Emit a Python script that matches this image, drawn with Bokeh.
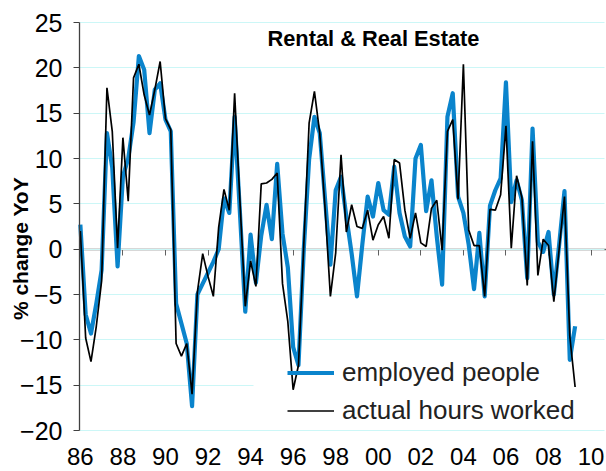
import math
from bokeh.plotting import figure
from bokeh.models import (ColumnDataSource, Range1d, FixedTicker, LinearAxis, Label,
                          Legend, LegendItem, Grid)
from bokeh.embed import file_html
from bokeh.resources import INLINE

# ---- data: quarterly, 1986Q1 .. 2009Q2, % change YoY ----
years = list(range(1986, 2010))
quarters = [(y, q) for y in years for q in (1, 2, 3, 4)][:94]

employed_people = [
    2.7, -7.2, -9.3, -6.0, -2.3, 12.8, 9.0, -1.9, 8.0, 10.0,
    14.0, 21.3, 19.8, 12.8, 17.6, 18.3, 14.3, 13.0, -6.0, -8.2,
    -10.4, -17.3, -5.0, -3.8, -2.6, -1.4, 0.0, 5.6, 4.0, 14.6,
    4.0, -6.9, 1.6, -3.7, 1.5, 4.9, 1.1, 9.4, 1.7, -2.0,
    -10.8, -12.8, 0.0, 9.9, 14.6, 12.8, 5.5, -1.7, 6.5, 8.0,
    3.6, -0.5, -5.2, 0.5, 5.8, 3.6, 7.3, 4.3, 3.8, 9.1,
    4.0, 1.4, 0.3, 10.0, 11.5, 4.2, 7.6, 1.4, -3.9, 14.6,
    17.2, 5.8, 4.0, 0.5, -4.4, 1.8, -5.2, 4.8, 6.5, 7.8,
    18.4, 5.2, 7.6, 5.4, -3.2, 13.3, 0.8, -0.3, 1.9, -5.0,
    0.5, 6.4, -12.2, -8.5,
]
actual_hours_worked = [
    2.0, -9.8, -12.4, -8.5, -3.5, 17.8, 13.0, 0.1, 12.3, 5.3,
    18.9, 20.4, 17.0, 14.8, 17.6, 20.7, 14.4, 13.2, -10.4, -11.8,
    -10.4, -16.0, -4.7, -0.5, -3.0, -5.2, 2.4, 6.6, 4.3, 17.2,
    5.3, -6.3, -1.3, -4.1, 7.2, 7.3, 7.7, 8.4, -3.8, -8.0,
    -15.5, -12.8, 0.5, 13.9, 17.4, 12.8, 4.5, -5.2, -0.4, 10.4,
    1.9, 4.9, 2.5, 2.3, 4.3, 1.0, 2.7, 3.6, 1.2, 9.9,
    9.5, 4.3, 1.2, 4.0, 0.7, 0.3, 4.5, 5.4, -0.1, 13.0,
    14.3, 5.5, 20.4, 2.1, 0.4, 0.4, -5.2, 4.4, 4.3, 6.0,
    13.6, 0.1, 8.1, 5.7, -4.0, 11.9, -2.9, 1.1, 0.4, -5.8,
    0.0, 5.8, -9.6, -15.2,
]

x_tick_years = [1986, 1988, 1990, 1992, 1994, 1996, 1998, 2000, 2002, 2004, 2006, 2008, 2010]
x_tick_labels = ["86", "88", "90", "92", "94", "96", "98", "00", "02", "04", "06", "08", "10"]
y_ticks = [-20, -15, -10, -5, 0, 5, 10, 15, 20, 25]

title_text = "Rental & Real Estate"
y_title = "% change YoY"
series_names = ["employed people", "actual hours worked"]

# ---- build ----
xq = [y + (q - 1) / 4 for (y, q) in quarters]
src = ColumnDataSource(data=dict(x=xq, emp=employed_people, hrs=actual_hours_worked))

FONT = "Liberation Sans"
BLUE = "#0A84CC"
X_LEFT, X_RIGHT = 1985.96, 2010.63   # plot-area edges (years)
LEGEND_LEFT = 1994.14                 # legend box hides the grid line behind it

p = figure(width=606, height=471, output_backend="svg", toolbar_location=None,
           x_range=Range1d(1982.248, 2010.725), y_range=Range1d(-24.52, 27.43),
           min_border_left=0, min_border_right=0, min_border_top=0, min_border_bottom=0,
           x_axis_type=None, y_axis_type=None)
p.outline_line_color = None
p.background_fill_color = "white"
p.border_fill_color = "white"

# grid (only across the plot area; the -15 line stops at the legend box)
full_ticks = [t for t in y_ticks if t != -15]
ygrid = Grid(dimension=1, ticker=FixedTicker(ticks=full_ticks), cross_bounds=(X_LEFT, X_RIGHT))
ygrid.grid_line_color = "#CCF7F7"
ygrid.grid_line_width = 1
p.add_layout(ygrid)
ygrid2 = Grid(dimension=1, ticker=FixedTicker(ticks=[-15]), cross_bounds=(X_LEFT, LEGEND_LEFT))
ygrid2.grid_line_color = "#CCF7F7"
ygrid2.grid_line_width = 1
p.add_layout(ygrid2)

# y axis (line and ticks only from -20 to 25)
yaxis = LinearAxis(ticker=FixedTicker(ticks=y_ticks), bounds=(-20, 25), fixed_location=X_LEFT)
yaxis.axis_line_color = "#404040"
yaxis.axis_line_width = 1.3
yaxis.major_tick_line_color = "#404040"
yaxis.major_tick_out = 6
yaxis.major_tick_in = 0
yaxis.minor_tick_line_color = None
yaxis.major_label_text_font = FONT
yaxis.major_label_text_font_size = "25px"
yaxis.major_label_text_color = "black"
yaxis.major_label_standoff = 11
p.add_layout(yaxis, "left")

# year labels, placed under the -20 line
xaxis = LinearAxis(ticker=FixedTicker(ticks=x_tick_years), fixed_location=-20)
xaxis.major_label_overrides = {yr: lab for yr, lab in zip(x_tick_years, x_tick_labels)}
xaxis.axis_line_color = None
xaxis.major_tick_line_color = None
xaxis.minor_tick_line_color = None
xaxis.major_tick_out = 0
xaxis.major_tick_in = 0
xaxis.major_label_text_font = FONT
xaxis.major_label_text_font_size = "24px"
xaxis.major_label_text_color = "black"
xaxis.major_label_standoff = 17
p.add_layout(xaxis, "below")

# zero line with tick marks
zaxis = LinearAxis(ticker=FixedTicker(ticks=x_tick_years), fixed_location=0,
                   bounds=(X_LEFT, 2010.725))
zaxis.axis_line_color = "#606060"
zaxis.axis_line_width = 1.5
zaxis.major_tick_line_color = "#606060"
zaxis.major_tick_out = 6
zaxis.major_tick_in = 0
zaxis.minor_tick_line_color = None
zaxis.major_label_text_font_size = "0px"
zaxis.major_label_text_alpha = 0
zaxis.major_label_standoff = 0
zaxis.level = "underlay"
p.add_layout(zaxis, "below")

r_emp = p.line("x", "emp", source=src, line_color=BLUE, line_width=4.2, line_join="round")
r_hrs = p.line("x", "hrs", source=src, line_color="black", line_width=1.7)

legend = Legend(items=[LegendItem(label=series_names[0], renderers=[r_emp]),
                       LegendItem(label=series_names[1], renderers=[r_hrs])],
                location=(287, 45))
legend.label_text_font = FONT
legend.label_text_font_size = "26px"
legend.label_text_color = "#222222"
legend.glyph_width = 47
legend.glyph_height = 29
legend.label_height = 29
legend.label_standoff = 8
legend.spacing = 7
legend.padding = 6
legend.margin = 0
legend.border_line_color = None
legend.background_fill_alpha = 0
p.add_layout(legend)

p.add_layout(Label(x=373, y=433, x_units="screen", y_units="screen", text=title_text,
                   text_font=FONT, text_font_size="21.8px", text_font_style="bold",
                   text_align="center", text_baseline="alphabetic", text_color="black"))
p.add_layout(Label(x=20, y=223, x_units="screen", y_units="screen", text=y_title,
                   angle=math.pi / 2, text_font=FONT, text_font_size="21px",
                   text_font_style="bold", text_align="center", text_baseline="middle",
                   text_color="black"))

open("out.html", "w").write(file_html(p, INLINE))
